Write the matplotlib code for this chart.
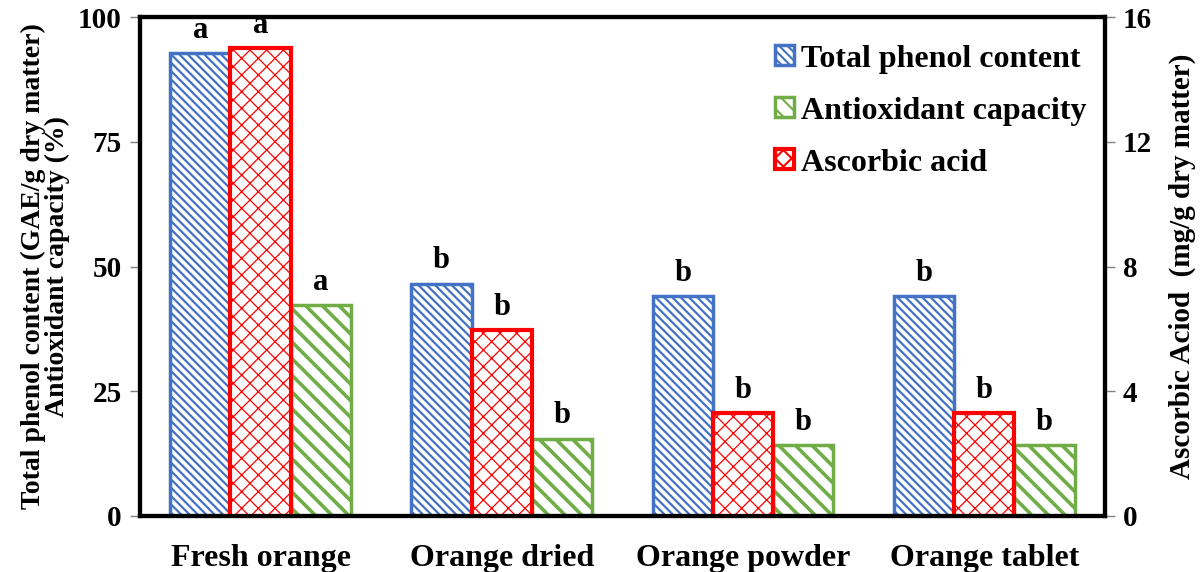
import matplotlib
matplotlib.use("Agg")
from matplotlib import pyplot as plt
import numpy as np

categories = ["Fresh orange", "Orange dried", "Orange powder", "Orange tablet"]
phenol = [92.8, 46.6, 44.0, 44.0]
antioxidant = [42.3, 15.5, 14.2, 14.2]
ascorbic = [15.0, 5.95, 3.3, 3.3]
phenol_letters = ["a", "b", "b", "b"]
antiox_letters = ["a", "b", "b", "b"]
ascorbic_letters = ["a", "b", "b", "b"]

BLUE = "#4472C4"
RED = "#FF0000"
GREEN = "#70AD47"
FONT = "Liberation Serif"


def hatched_bar(ax, x, h, color, hatch, hlw, lw):
    bars = ax.bar(x, h, width=0.25, facecolor="white", edgecolor=color,
                  hatch=hatch, linewidth=lw)
    for b in bars:
        if hasattr(b, "set_hatch_linewidth"):
            b.set_hatch_linewidth(hlw)
    return bars


def letters(ax, x, h, labels):
    for xi, hi, lab in zip(x, h, labels):
        ax.annotate(lab, (xi, hi), xytext=(0, 11), textcoords="offset points",
                    ha="center", va="baseline", fontsize=22,
                    fontweight="bold", family=FONT, annotation_clip=False)


def main():
    plt.rcParams["hatch.linewidth"] = 1.5
    fig = plt.figure(figsize=(12, 5.72), dpi=100)
    ax = fig.add_axes([0.1167, 0.098, 0.804, 0.872])
    ax2 = ax.twinx()

    x = np.arange(len(categories))
    b1 = hatched_bar(ax, x - 0.25, phenol, BLUE, "\\\\\\\\", 1.6, 2.5)
    b3 = hatched_bar(ax, x + 0.25, antioxidant, GREEN, "\\\\", 2.6, 2.5)
    b2 = hatched_bar(ax2, x, ascorbic, RED, "xx", 0.9, 3.0)

    letters(ax, x - 0.25, phenol, phenol_letters)
    letters(ax, x + 0.25, antioxidant, antiox_letters)
    letters(ax2, x, ascorbic, ascorbic_letters)

    ax.set_xlim(-0.5, 3.5)
    ax.set_ylim(0, 100)
    ax2.set_ylim(0, 16)
    ax.set_yticks([0, 25, 50, 75, 100])
    ax2.set_yticks([0, 4, 8, 12, 16])
    ax.set_xticks(x)
    ax.set_xticklabels(categories)
    ax.tick_params(axis="x", length=0, pad=20)
    ax.tick_params(axis="y", length=7, width=1, color="#808080", pad=6)
    ax2.tick_params(axis="y", length=7, width=1, color="#808080", pad=6)
    for lab in ax.get_yticklabels() + ax2.get_yticklabels():
        lab.set_family(FONT)
        lab.set_fontweight("bold")
        lab.set_fontsize(21)
    for lab in ax.get_xticklabels():
        lab.set_family(FONT)
        lab.set_fontweight("bold")
        lab.set_fontsize(23)
    for a in (ax, ax2):
        for s in a.spines.values():
            s.set_linewidth(3)
            s.set_color("black")

    ax.set_ylabel("Total phenol content (GAE/g dry matter)\nAntioxidant capacity (%)",
                  family=FONT, fontweight="bold", fontsize=20, labelpad=6,
                  linespacing=0.95)
    ax2.set_ylabel("Ascorbic Aciod  (mg/g dry matter)", family=FONT,
                   fontweight="bold", fontsize=21, labelpad=12)

    ax2.legend([b1, b3, b2], ["Total phenol content", "Antioxidant capacity",
                              "Ascorbic acid"],
               loc="upper right", bbox_to_anchor=(1.012, 1.006),
               frameon=False, handlelength=0.6,
               handleheight=0.6, handletextpad=0.2, labelspacing=0.72,
               borderaxespad=0.55,
               prop={"family": FONT, "weight": "bold", "size": 23})

    fig.savefig("out.png", dpi=100)


if __name__ == "__main__":
    main()
